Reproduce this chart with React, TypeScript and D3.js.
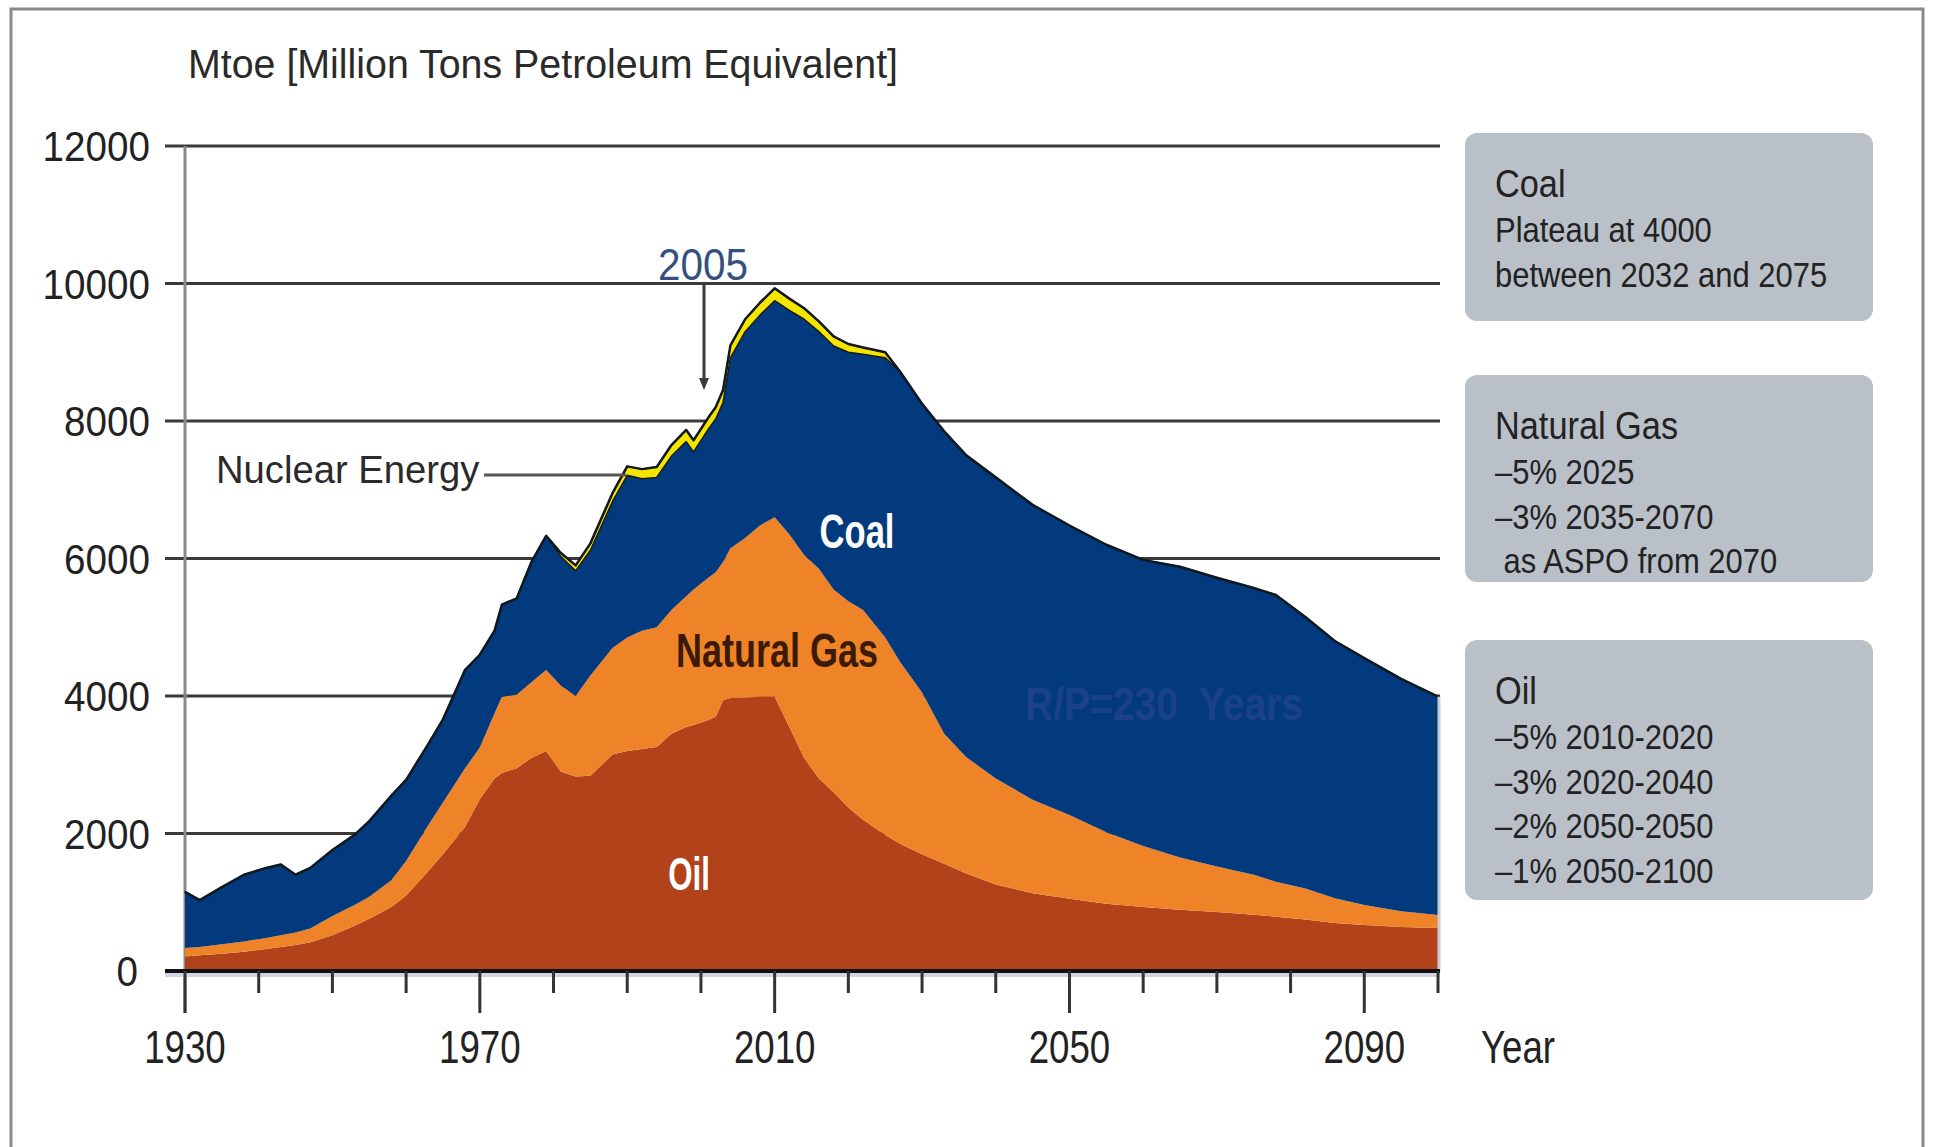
import React from "react";
import * as d3 from "d3";

const years = [1930,1932,1935,1938,1941,1943,1945,1947,1950,1953,1955,1958,1960,1963,1965,1968,1970,1972,1973,1975,1977,1979,1981,1983,1985,1988,1990,1992,1994,1996,1998,1999,2001,2002,2003,2004,2006,2008,2010,2012,2014,2016,2018,2020,2022,2025,2027,2030,2033,2036,2040,2045,2050,2055,2060,2065,2070,2075,2078,2082,2086,2090,2095,2100];

const oil = [210,230,250,280,320,350,380,420,520,660,760,930,1100,1450,1700,2100,2500,2800,2880,2950,3100,3200,2900,2830,2840,3150,3200,3230,3260,3450,3550,3580,3650,3700,3940,3970,3980,3990,3990,3550,3100,2800,2600,2380,2200,1980,1850,1700,1560,1420,1260,1130,1050,980,930,890,860,820,790,750,700,670,640,625];

const gas = [125,120,140,150,160,170,180,200,280,300,320,390,500,670,750,850,750,950,1110,1070,1100,1180,1250,1170,1460,1550,1650,1720,1740,1800,1900,1970,2070,2100,2010,2180,2320,2490,2610,2800,2950,3050,2950,3000,3050,2870,2650,2350,1890,1690,1540,1360,1220,1040,890,760,660,580,510,450,360,290,230,190];

const coal = [815,680,830,970,1020,1030,840,880,960,1020,1100,1230,1180,1180,1210,1430,1350,1200,1340,1400,1750,1950,1880,1820,1820,2130,2360,2210,2180,2240,2250,2000,2160,2230,2320,2770,3000,3060,3150,3260,3430,3450,3540,3620,3720,4070,4220,4200,4400,4390,4380,4290,4210,4180,4160,4230,4200,4170,4170,3950,3740,3590,3380,3175];

const nuclear = [0,0,0,0,0,0,0,0,0,0,0,0,0,0,0,0,0,0,0,0,0,0,50,80,100,120,130,140,150,160,170,170,170,170,180,180,180,180,180,170,160,150,140,120,100,80,0,0,0,0,0,0,0,0,0,0,0,0,0,0,0,0,0,0];

const seriesKeys = ["oil", "gas", "coal", "nuclear"];
const seriesColors: Record<string, string> = {
  oil: "#B2421A",
  gas: "#EE8427",
  coal: "#033A7E",
  nuclear: "#F3E500",
};

const yTicks = [0, 2000, 4000, 6000, 8000, 10000, 12000];
const xMajorTicks = [1930, 1970, 2010, 2050, 2090];
const xMinorTicks = [1940, 1950, 1960, 1980, 1990, 2000, 2020, 2030, 2040, 2060, 2070, 2080, 2100];

const titleText = "Mtoe [Million Tons Petroleum Equivalent]";
const xAxisName = "Year";

const boxes = [
  { title: "Coal", lines: ["Plateau at 4000", "between 2032 and 2075"] },
  { title: "Natural Gas", lines: ["–5% 2025", "–3% 2035-2070", " as ASPO from 2070"] },
  { title: "Oil", lines: ["–5% 2010-2020", "–3% 2020-2040", "–2% 2050-2050", "–1% 2050-2100"] },
];

const FONT = "'Liberation Sans', Arial, Helvetica, sans-serif";

function T(props: {
  x: number; y: number; size: number; sx?: number; anchor?: string;
  fill?: string; weight?: string | number; children: React.ReactNode;
}) {
  const { x, y, size, sx = 1, anchor = "start", fill = "#222", weight = "normal", children } = props;
  return (
    <text
      transform={`translate(${x},${y}) scale(${sx},1)`}
      fontFamily={FONT}
      fontSize={size}
      fontWeight={weight as any}
      fill={fill}
      textAnchor={anchor as any}
      style={{ whiteSpace: "pre" }}
    >
      {children}
    </text>
  );
}

export default function App() {
  const W = 1934, H = 1147;
  const x = d3.scaleLinear().domain([1930, 2100]).range([185, 1438]);
  const y = d3.scaleLinear().domain([0, 12000]).range([971, 146]);

  const table = years.map((yr, i) => ({
    year: yr, oil: oil[i], gas: gas[i], coal: coal[i], nuclear: nuclear[i],
  }));
  const stack = d3.stack<any>().keys(seriesKeys);
  const layers = stack(table);

  const area = d3.area<any>()
    .x((d) => x(d.data.year))
    .y0((d) => y(d[0]))
    .y1((d) => y(d[1]))
    .curve(d3.curveLinear);

  const topLine = d3.line<any>()
    .x((d) => x(d.data.year))
    .y((d) => y(d[1]))
    .curve(d3.curveLinear);

  const top = layers[layers.length - 1];
  const lastTotal = top[top.length - 1][1];

  const boxY = [133, 375, 640];
  const boxH = [188, 207, 260];

  return (
    <svg width={W} height={H} style={{ position: "absolute", left: 0, top: 0, background: "#fff" }}>
      <rect x={0} y={0} width={W} height={H} fill="#fff" />
      {/* outer frame */}
      <rect x={11} y={9} width={1912} height={1150} fill="none" stroke="#8a8a8a" strokeWidth={3} />

      {/* title */}
      <T x={188} y={78} size={41} sx={0.96} fill="#2a2a2a" weight={500}>{titleText}</T>

      {/* grid lines */}
      {yTicks.filter((t) => t > 0).map((t) => (
        <line key={t} x1={165} x2={1440} y1={y(t)} y2={y(t)} stroke="#3a3a3a" strokeWidth={3} />
      ))}

      {/* y axis line */}
      <line x1={185} x2={185} y1={y(12000)} y2={1013} stroke="#8a8a8a" strokeWidth={3} />

      {/* areas */}
      {layers.map((layer) => (
        <path
          key={layer.key}
          d={area(layer) as string}
          fill={seriesColors[layer.key]}
          stroke={layer.key === "nuclear" ? "#1a1a1a" : "none"}
          strokeWidth={layer.key === "nuclear" ? 1.5 : 0}
          strokeLinejoin="round"
        />
      ))}
      <path d={topLine(top) as string} fill="none" stroke="#101820" strokeWidth={2.5} strokeLinejoin="round" />

      {/* right edge of area */}
      <line x1={x(2100) + 1} x2={x(2100) + 1} y1={y(0)} y2={y(lastTotal)} stroke="#c9ced6" strokeWidth={3} />

      {/* x axis */}
      <line x1={165} x2={1440} y1={975} y2={975} stroke="#d4d3e2" strokeWidth={4} />
      <line x1={165} x2={1440} y1={971} y2={971} stroke="#111" strokeWidth={4} />
      {xMinorTicks.map((t) => (
        <line key={t} x1={x(t)} x2={x(t)} y1={971} y2={993} stroke="#333" strokeWidth={3} />
      ))}
      {xMajorTicks.map((t) => (
        <line key={t} x1={x(t)} x2={x(t)} y1={971} y2={1013} stroke="#333" strokeWidth={3} />
      ))}
      {xMajorTicks.map((t) => (
        <T key={t} x={x(t)} y={1063} size={47} sx={0.78} anchor="middle" fill="#222">{t}</T>
      ))}
      <T x={1481} y={1063} size={47} sx={0.78} fill="#222">{xAxisName}</T>

      {/* y labels */}
      {yTicks.map((t) => (
        <T key={t} x={t === 0 ? 138 : 150} y={y(t) + 15} size={42} sx={0.92} anchor="end" fill="#222">{t}</T>
      ))}

      {/* annotations */}
      <T x={703} y={280} size={45} sx={0.9} anchor="middle" fill="#34507f" weight={500}>2005</T>
      <line x1={704} x2={704} y1={284} y2={382} stroke="#3a3a3a" strokeWidth={3} />
      <path d="M699,378 L709,378 L704,390 Z" fill="#3a3a3a" />

      <T x={216} y={483} size={39} sx={0.98} fill="#2a2a2a">Nuclear Energy</T>
      <line x1={484} x2={626} y1={475} y2={475} stroke="#555" strokeWidth={3} />

      <T x={857} y={548} size={48} sx={0.72} anchor="middle" weight="bold" fill="#ffffff">Coal</T>
      <T x={777} y={667} size={48} sx={0.75} anchor="middle" weight="bold" fill="#3d1a08">Natural Gas</T>
      <T x={689} y={890} size={46} sx={0.68} anchor="middle" weight="bold" fill="#ffffff">Oil</T>
      <T x={1164} y={720} size={47} sx={0.83} anchor="middle" weight="bold" fill="#1b4288">R/P=230  Years</T>

      {/* right boxes */}
      {boxes.map((b, i) => (
        <g key={b.title}>
          <rect x={1465} y={boxY[i]} width={408} height={boxH[i]} rx={12} ry={12} fill="#b9c0c8" />
          <T x={1495} y={boxY[i] + 64} size={39} sx={0.88} fill="#222">{b.title}</T>
          {b.lines.map((l, j) => (
            <T key={j} x={1495} y={boxY[i] + 109 + j * 44.5} size={36} sx={0.86} fill="#222">{l}</T>
          ))}
        </g>
      ))}
    </svg>
  );
}
